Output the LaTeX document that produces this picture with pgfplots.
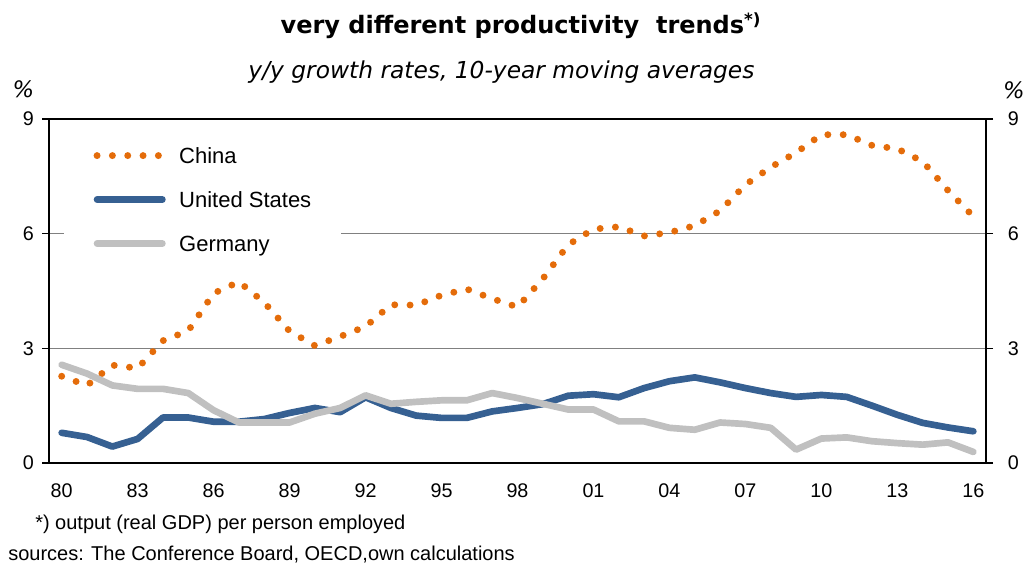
\documentclass[border=0pt]{standalone}
\usepackage{pgfplots}
\pgfplotsset{compat=1.18}
\usepackage{fontspec}
\setmainfont{Liberation Sans}
\newfontfamily\dejavu{DejaVu Sans}
\definecolor{chinaor}{RGB}{228,108,10}
\definecolor{usblue}{RGB}{54,96,146}
\definecolor{degrey}{RGB}{192,192,192}
\definecolor{gridgr}{RGB}{128,128,128}

\pgfplotstableread{
year china us germany
1980 2.27 0.79 2.57
1981 2.03 0.68 2.34
1982 2.56 0.43 2.03
1983 2.48 0.63 1.94
1984 3.20 1.19 1.94
1985 3.46 1.19 1.83
1986 4.44 1.08 1.38
1987 4.74 1.08 1.06
1988 4.20 1.15 1.06
1989 3.45 1.31 1.06
1990 3.07 1.44 1.29
1991 3.31 1.33 1.44
1992 3.57 1.72 1.77
1993 4.14 1.44 1.55
1994 4.13 1.24 1.60
1995 4.39 1.18 1.64
1996 4.55 1.18 1.64
1997 4.30 1.35 1.83
1998 4.08 1.44 1.70
1999 4.82 1.54 1.55
2000 5.71 1.76 1.40
2001 6.12 1.80 1.40
2002 6.18 1.72 1.09
2003 5.94 1.96 1.09
2004 6.03 2.14 0.92
2005 6.21 2.24 0.87
2006 6.60 2.11 1.06
2007 7.28 1.96 1.02
2008 7.74 1.83 0.92
2009 8.12 1.73 0.35
2010 8.59 1.78 0.64
2011 8.59 1.73 0.67
2012 8.31 1.50 0.57
2013 8.22 1.26 0.52
2014 7.89 1.05 0.48
2015 7.13 0.93 0.54
2016 6.45 0.83 0.29
}\datatable

\pgfplotsset{
  basestyle/.style={
    at={(36.75pt,79.5pt)}, anchor=south west,
    scale only axis, width=702.75pt, height=258pt,
    xmin=1979.5, xmax=2016.5, ymin=0, ymax=9,
    axis line style={black, line width=1.5pt},
    tick align=outside,
    major tick length=5.25pt, minor tick length=5.25pt,
    tick style={black, line width=1.1pt},
    ytick={0,3,6,9}, yticklabels={0,3,6,9},
    ticklabel style={font=\fontsize{14.8}{17}\selectfont},
  }
}

\begin{document}
\begin{tikzpicture}
\useasboundingbox (0,0) rectangle (773.25pt,426.75pt);

% right-hand labels
\begin{axis}[basestyle,
  xtick=\empty,
  ytick pos=right, yticklabel pos=right,
  yticklabel style={inner sep=0pt, anchor=west, xshift=11pt},
]
\addplot[draw=none] coordinates {(1980,0)};
\end{axis}

\begin{axis}[basestyle,
  ytick pos=left,
  yticklabel style={inner sep=0pt, anchor=east, xshift=-6pt},
  xtick={1980,1983,...,2016},
  xticklabels={80,83,86,89,92,95,98,01,04,07,10,13,16},
  xtick style={draw=none},
  minor xtick={1979.5,1980.5,...,2016.5},
  xtick pos=bottom,
  xticklabel style={inner sep=0pt, anchor=north, yshift=-10pt},
  ymajorgrids, grid style={gridgr, line width=1.1pt},
  legend style={
    at={(0.0160,0.941)}, anchor=north west,
    draw=none, fill=white,
    inner xsep=22pt, inner ysep=6pt,
    font=\fontsize{16.5}{19}\selectfont,
    row sep=17pt,
    nodes={inner sep=0pt, anchor=base west, text height=12pt, text depth=4pt},
    /tikz/every odd column/.append style={column sep=10pt},
  },
  legend cell align=left,
  legend image code/.code={\draw[#1] (0pt,6pt) -- (49pt,6pt);},
]
\addplot[chinaor, line width=5.2pt, line cap=round, dash pattern=on 0pt off 11.5pt]
  table[x=year, y=china] {\datatable};
\addlegendentry{China}
\addplot[usblue, line width=5pt, line cap=round, line join=round]
  table[x=year, y=us] {\datatable};
\addlegendentry{United States}
\addplot[degrey, line width=5pt, line cap=round, line join=round]
  table[x=year, y=germany] {\datatable};
\addlegendentry{Germany}
\end{axis}

\node[anchor=base] at (390.75pt,401.6pt)
  {\dejavu\bfseries\fontsize{18}{21}\selectfont very different productivity\ \ trends\textsuperscript{*)}};
\node[anchor=base] at (376.1pt,367.5pt)
  {\dejavu\itshape\fontsize{17.5}{20}\selectfont y/y growth rates, 10-year moving averages};
\node[anchor=base] at (17.6pt,353.6pt) {\dejavu\itshape\fontsize{17}{20}\selectfont \%};
\node[anchor=base] at (760.5pt,352.5pt) {\dejavu\itshape\fontsize{17}{20}\selectfont \%};
\node[anchor=base west, inner sep=0pt] at (26.25pt,30pt)
  {\fontsize{15}{17}\selectfont *) output (real GDP) per person employed};
\node[anchor=base west, inner sep=0pt] at (6pt,6.75pt)
  {\fontsize{15}{17}\selectfont sources: The Conference Board, OECD,own calculations};
\end{tikzpicture}
\end{document}
